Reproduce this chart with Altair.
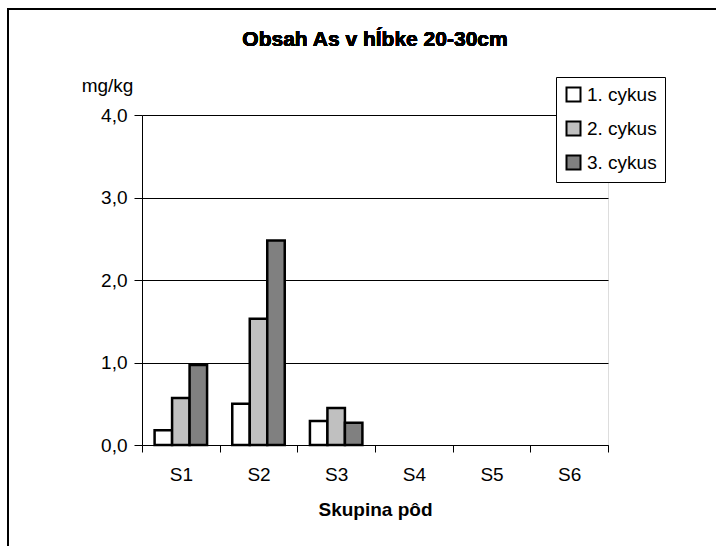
import altair as alt
import pandas as pd

# Soil groups on the x axis and the three sampling cycles
groups = ["S1", "S2", "S3", "S4", "S5", "S6"]
cycles = ["1. cykus", "2. cykus", "3. cykus"]

# As content (mg/kg) at 20-30 cm depth; S4-S6 have no measurements
cycle1 = [0.18, 0.50, 0.29, None, None, None]
cycle2 = [0.57, 1.53, 0.45, None, None, None]
cycle3 = [0.97, 2.48, 0.27, None, None, None]

fills = ["#ffffff", "#c0c0c0", "#808080"]
title_text = "Obsah As v hĺbke 20-30cm"

rows = []
for cyc, vals in zip(cycles, [cycle1, cycle2, cycle3]):
    for g, v in zip(groups, vals):
        if v is not None:
            rows.append({"skupina": g, "cyklus": cyc, "hodnota": v})
df = pd.DataFrame(rows)

FONT = "Liberation Sans"
FS = 19
W, H = 466, 330

bars = alt.Chart(df).mark_bar(stroke="black", strokeWidth=2.5).encode(
    x=alt.X(
        "skupina:N",
        scale=alt.Scale(domain=groups, paddingInner=0, paddingOuter=0),
        axis=alt.Axis(
            title="Skupina pôd",
            titleFont=FONT,
            titleFontSize=FS,
            titleFontWeight="bold",
            titleColor="black",
            titlePadding=16,
            labelFont=FONT,
            labelFontSize=FS,
            labelColor="black",
            labelAngle=0,
            labelPadding=13,
            tickBand="extent",
            tickSize=7,
            tickColor="black",
            domainColor="black",
            grid=False,
        ),
    ),
    xOffset=alt.XOffset(
        "cyklus:N",
        scale=alt.Scale(domain=cycles, paddingInner=0, paddingOuter=0.72),
    ),
    y=alt.Y(
        "hodnota:Q",
        scale=alt.Scale(domain=[0, 4]),
        axis=alt.Axis(
            values=[0, 1, 2, 3, 4],
            labelExpr="replace(format(datum.value, '.1f'), '.', ',')",
            labelFont=FONT,
            labelFontSize=FS,
            labelColor="black",
            labelPadding=7,
            tickSize=8,
            tickColor="black",
            domainColor="black",
            gridColor="black",
            gridOpacity=1,
            title="mg/kg",
            titleAngle=0,
            titleFont=FONT,
            titleFontSize=FS,
            titleFontWeight="normal",
            titleColor="black",
            titleAlign="center",
            titleBaseline="middle",
            titleX=-35,
            titleY=-30,
        ),
    ),
    color=alt.Color(
        "cyklus:N",
        scale=alt.Scale(domain=cycles, range=fills),
        legend=alt.Legend(
            title=None,
            orient="none",
            legendX=414,
            legendY=-38,
            strokeColor="black",
            fillColor="white",
            padding=8,
            rowPadding=11,
            symbolType="square",
            symbolSize=196,
            symbolStrokeColor="black",
            symbolStrokeWidth=2,
            labelFont=FONT,
            labelFontSize=FS,
            labelColor="black",
            labelOffset=4,
        ),
    ),
)

# chart title
heading = alt.Chart(df).mark_text(
    text=title_text,
    font=FONT,
    fontSize=21,
    fontWeight="bold",
    color="black",
    align="center",
    baseline="middle",
).encode(x=alt.value(W / 2), y=alt.value(-75))

# outer chart frame
frame = alt.Chart(df).mark_rect(fill=None, stroke="black", strokeWidth=2).encode(
    x=alt.value(-134), x2=alt.value(700), y=alt.value(-106), y2=alt.value(600)
)

chart = (
    alt.layer(frame, bars, heading)
    .properties(
        width=W,
        height=H,
        padding={"left": 142, "top": 115, "right": 108, "bottom": 101},
        autosize=alt.AutoSizeParams(type="none"),
    )
    .configure_view(stroke=None)
    .configure(background="white")
)

chart.save("out.html", embed_options={"renderer": "svg", "actions": False})
